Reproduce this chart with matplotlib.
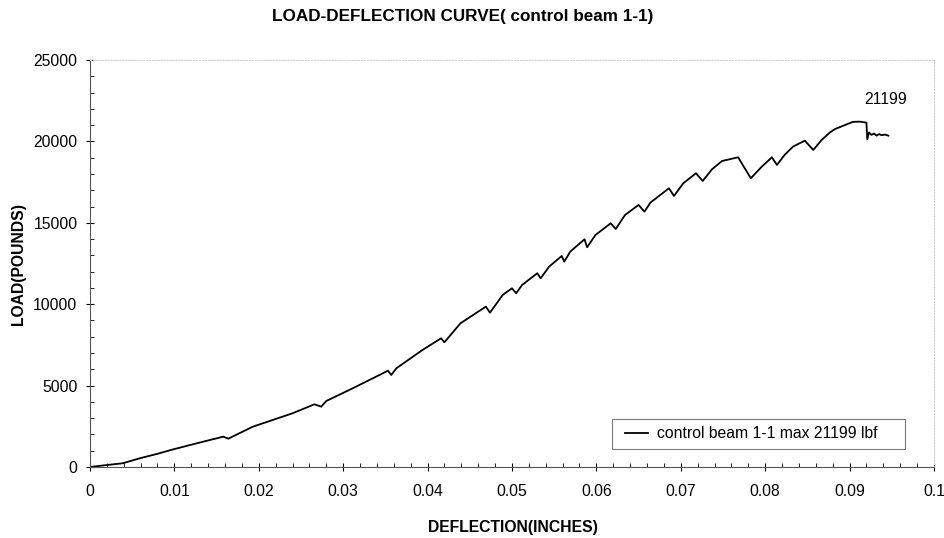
import numpy as np
import matplotlib
matplotlib.use("Agg")
import matplotlib.pyplot as plt
from matplotlib.patches import Rectangle

plt.rcParams['font.family'] = ['Liberation Sans', 'DejaVu Sans']

# deflection (in) and load (lbf)
deflection = [0.0, 0.0015, 0.0039, 0.0059, 0.0080, 0.0099, 0.0130, 0.0158, 0.0164, 0.0193,
              0.0215, 0.0240, 0.0266, 0.0274, 0.0280, 0.0310, 0.0343, 0.0353, 0.0357,
              0.0363, 0.0394, 0.0416, 0.0420, 0.0439, 0.0469, 0.0474, 0.0489, 0.0500,
              0.0505, 0.0512, 0.0530, 0.0534, 0.0544, 0.0559, 0.0562, 0.0569, 0.0586,
              0.0589, 0.0599, 0.0617, 0.0623, 0.0634, 0.0650, 0.0657, 0.0664, 0.0686,
              0.0692, 0.0703, 0.0718, 0.0726, 0.0737, 0.0749, 0.0768, 0.0783, 0.0796,
              0.0808, 0.0814, 0.0823, 0.0833, 0.0847, 0.0857, 0.0867, 0.0877, 0.0883,
              0.0904, 0.0912, 0.0920, 0.0921, 0.0923, 0.0926, 0.0929, 0.0932, 0.0935,
              0.0938, 0.0942, 0.0946]
load = [0, 90, 230, 534, 810, 1087, 1500, 1863, 1740, 2476,
        2860, 3299, 3850, 3706, 4054, 4800, 5652, 5916, 5652,
        6063, 7187, 7906, 7660, 8828, 9848, 9480, 10566, 10976,
        10670, 11180, 11900, 11590, 12305, 12962, 12610, 13225, 13987,
        13496, 14252, 14970, 14620, 15480, 16095, 15684, 16236, 17120,
        16648, 17428, 18042, 17569, 18288, 18797, 19022, 17735, 18447,
        19022, 18552, 19166, 19677, 20046, 19474, 20088, 20560, 20764,
        21199, 21213, 21152, 20131, 20550, 20400, 20480, 20350, 20450,
        20380, 20420, 20350]

peak_label = "21199"
x_ticks = [0, 0.01, 0.02, 0.03, 0.04, 0.05, 0.06, 0.07, 0.08, 0.09, 0.1]
x_tick_labels = ["0", "0.01", "0.02", "0.03", "0.04", "0.05", "0.06", "0.07", "0.08", "0.09", "0.1"]
y_ticks = [0, 5000, 10000, 15000, 20000, 25000]

fs = 11.3

fig = plt.figure(figsize=(9.45, 5.38), dpi=100)
ax = fig.add_axes([0.0952, 0.132, 0.8931, 0.7565])

ax.plot(deflection, load, color='black', lw=1.3, label='control beam 1-1 max 21199 lbf')
ax.text(0.0943, 22550, peak_label, ha='center', va='center', fontsize=fs)

ax.set_xlim(0, 0.1)
ax.set_ylim(0, 25000)
ax.set_xticks(x_ticks)
ax.set_xticklabels(x_tick_labels)
ax.set_yticks(y_ticks)
ax.set_xticks(np.arange(0, 0.1001, 0.002), minor=True)
ax.set_yticks(np.arange(0, 25001, 1000), minor=True)
ax.tick_params(axis='both', which='major', direction='inout', length=6, width=0.8,
               labelsize=fs)
ax.tick_params(axis='x', which='major', pad=9)
ax.tick_params(axis='y', which='major', pad=6)
ax.tick_params(axis='both', which='minor', direction='in', length=3, width=0.6)

for s in ['top', 'right']:
    ax.spines[s].set_color('#cccccc')
    ax.spines[s].set_linestyle(':')
    ax.spines[s].set_linewidth(0.8)
for s in ['left', 'bottom']:
    ax.spines[s].set_color('#555555')
    ax.spines[s].set_linewidth(0.8)

fig.text(0.543, 0.0186, 'DEFLECTION(INCHES)', ha='center', va='center',
         fontsize=fs, fontweight='bold')
fig.text(0.0194, 0.509, 'LOAD(POUNDS)', ha='center', va='center', rotation=90,
         fontsize=fs, fontweight='bold')
fig.text(0.49, 0.97, 'LOAD-DEFLECTION CURVE( control beam 1-1)', ha='center',
         va='center', fontsize=12.3, fontweight='bold')

# legend box and entry
ax.add_patch(Rectangle((0.6182, 0.0435), 0.3475, 0.0745, transform=ax.transAxes,
                       facecolor='white', edgecolor='#777777', lw=0.8, zorder=4))
leg = ax.legend(loc='center left', bbox_to_anchor=(0.6339, 0.0811), fontsize=fs,
                frameon=False, handlelength=1.47, handletextpad=0.57,
                borderpad=0, borderaxespad=0)
leg.set_zorder(5)

fig.savefig('out.png', dpi=100)
